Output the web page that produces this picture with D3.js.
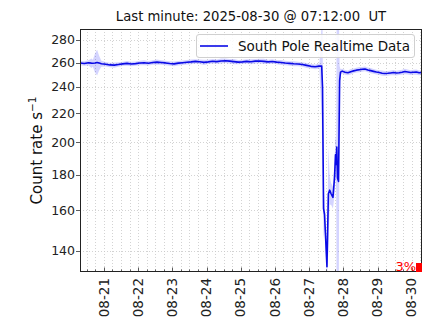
<!DOCTYPE html>
<html>
<head>
<meta charset="utf-8">
<script src="https://cdn.jsdelivr.net/npm/d3@7"></script>
<style>
  body { margin: 0; background: #fff; }
  svg { display: block; font-family: "DejaVu Sans", sans-serif; }
</style>
</head>
<body>
<div id="chart"></div>
<script>
// hours since 2025-08-20 07:12 UT
var hours = [0, 3, 6, 8, 9, 10.5, 12, 13.5, 15, 18, 21, 24, 27, 30, 33, 36, 39, 42, 45, 48, 51, 54, 57, 60,
    63, 66, 69, 72, 75, 78, 81, 84, 87, 90, 93, 96, 99, 102, 105, 108, 111, 114, 117, 120, 123, 126,
    129, 132, 135, 138, 141, 144, 147, 150, 153, 156, 159, 162, 165, 168, 169.6,
    170.2, 170.9, 171.6, 173.3, 174.3, 175.2, 176.2, 177.5, 178.6, 179.3, 179.8, 180.2, 180.7, 181.4,
    182.2, 182.8, 184, 186, 188, 190, 192, 194, 196, 198, 200, 202, 204, 206, 208, 210, 212, 214, 216,
    218, 220, 222, 224, 226, 228, 230, 232, 234, 236, 238, 240];
var rates = [259.6, 259.2, 259.8, 259.5, 259.4, 259.7, 260.1, 259.6, 259.0, 258.6, 258.0, 257.8, 258.4,
    258.9, 259.3, 258.8, 259.1, 259.6, 259.9, 259.4, 260.0, 260.4, 260.1, 259.7, 259.2, 258.9, 259.5,
    259.9, 260.3, 260.6, 261.0, 260.7, 260.2, 260.6, 261.1, 260.8, 261.3, 261.6, 261.2, 260.8, 260.4,
    260.6, 261.0, 260.7, 261.2, 261.4, 261.0, 260.6, 260.9, 260.4, 260.0, 259.6, 259.3, 259.0, 258.8,
    258.3, 257.6, 256.8, 256.4, 257.0, 257.0,
    240, 161, 158, 133, 169, 171, 169, 167, 178, 192, 186, 197, 178, 176,
    245, 252, 252.8, 251.8, 251.4, 252.3, 253.0, 253.6, 254.0, 254.3, 254.6, 253.8, 253.2, 252.6,
    252.0, 251.6, 251.1, 250.8, 251.0, 251.3, 251.6, 251.2, 251.5, 251.9, 252.5, 252.1, 251.6,
    251.9, 252.0, 251.4, 251.6];
var errors = [1.9, 1.9, 2.2, 4, 3, 8, 11, 6, 2.5, 1.9, 1.9, 2.2, 1.9, 1.9, 2.1, 1.9, 1.9, 1.9, 2.1, 1.9,
    1.9, 2.2, 1.9, 1.9, 1.9, 2.1, 1.9, 1.9, 1.9, 2.1, 1.9, 1.9, 2.2, 1.9, 1.9, 1.9, 2.1, 1.9, 1.9, 2.2,
    1.9, 1.9, 1.9, 2.1, 1.9, 1.9, 2.2, 1.9, 1.9, 1.9, 2.1, 1.9, 1.9, 2.2, 1.9, 1.9, 2.1, 1.9, 2.0,
    2.2, 40,
    55, 15, 8, 6, 28, 8, 6, 6, 10, 12, 15, 160, 160, 160,
    12, 2.5, 2.0, 2.0, 2.0, 2.2, 2.0, 2.0, 2.2, 2.0, 2.0, 2.0, 2.2, 2.0, 2.0, 2.0, 2.2, 2.0, 2.0,
    2.0, 2.2, 2.0, 2.0, 2.0, 2.2, 2.0, 2.0, 2.0, 2.2, 2.0, 2.0];
var yTicks = [140, 160, 180, 200, 220, 240, 260, 280];
var dayLabels = ["08-21", "08-22", "08-23", "08-24", "08-25", "08-26", "08-27", "08-28", "08-29", "08-30"];
var titleText = "Last minute: 2025-08-30 @ 07:12:00\u00a0\u00a0UT";
var legendText = "South Pole Realtime Data";
var progressText = "3%";

var W = 434, H = 330;
var pl = 80, pr = 422, pt = 29, pb = 272;
var start = new Date(Date.UTC(2025, 7, 20, 7, 12));
var end = new Date(Date.UTC(2025, 7, 30, 7, 12));

var svg = d3.select("#chart").append("svg").attr("width", W).attr("height", H);

var x = d3.scaleUtc().domain([start, end]).range([pl, pr]);
var y = d3.scaleLog().domain([130.7, 290.3]).range([pb, pt]);

var data = hours.map(function(h, i) {
    return { t: new Date(start.getTime() + h * 3600000), v: rates[i], e: errors[i] };
});

svg.append("clipPath").attr("id", "clip")
    .append("rect").attr("x", pl).attr("y", pt).attr("width", pr - pl).attr("height", pb - pt);

/* grid */
var sixHours = d3.utcHour.every(6).range(start, end);
svg.append("g").selectAll("line").data(sixHours).enter().append("line")
    .attr("x1", function(d) { return Math.round(x(d)) + 0.5; }).attr("x2", function(d) { return Math.round(x(d)) + 0.5; })
    .attr("y1", pt).attr("y2", pb)
    .attr("stroke", "#c8c8c8").attr("stroke-width", 0.8).attr("stroke-dasharray", "1,2");
svg.append("g").selectAll("line").data(yTicks).enter().append("line")
    .attr("x1", pl).attr("x2", pr)
    .attr("y1", function(d) { return Math.round(y(d)) + 0.5; }).attr("y2", function(d) { return Math.round(y(d)) + 0.5; })
    .attr("stroke", "#c8c8c8").attr("stroke-width", 0.8).attr("stroke-dasharray", "1,2");

/* error band + line */
var plot = svg.append("g").attr("clip-path", "url(#clip)");
plot.append("path").datum(data)
    .attr("d", d3.area()
        .x(function(d) { return x(d.t); })
        .y0(function(d) { return y(Math.max(d.v - d.e, 100)); })
        .y1(function(d) { return y(d.v + d.e); }))
    .attr("fill", "#0000ff").attr("fill-opacity", 0.17);
plot.append("path").datum(data)
    .attr("d", d3.line().x(function(d) { return x(d.t); }).y(function(d) { return y(d.v); }))
    .attr("fill", "none").attr("stroke", "#0a0ae6").attr("stroke-width", 1.6).attr("stroke-linejoin", "round");

/* x ticks (inward) */
var days = d3.utcDay.range(d3.utcDay.ceil(start), end);
svg.append("g").selectAll("line").data(sixHours).enter().append("line")
    .attr("x1", function(d) { return Math.round(x(d)) + 0.5; }).attr("x2", function(d) { return Math.round(x(d)) + 0.5; })
    .attr("y1", pb).attr("y2", function(d) { return d.getUTCHours() === 0 ? pb - 4.5 : pb - 2.5; })
    .attr("stroke", "#333").attr("stroke-width", 0.8);
svg.append("g").selectAll("text").data(days).enter().append("text")
    .attr("transform", function(d) { return "translate(" + x(d) + "," + (pb + 6) + ") rotate(-90)"; })
    .attr("text-anchor", "end").attr("dy", "0.35em")
    .attr("font-size", 13.5).attr("fill", "#222")
    .text(function(d, i) { return dayLabels[i]; });

/* y ticks */
svg.append("g").selectAll("line").data(yTicks).enter().append("line")
    .attr("x1", pl - 4).attr("x2", pl)
    .attr("y1", function(d) { return Math.round(y(d)) + 0.5; }).attr("y2", function(d) { return Math.round(y(d)) + 0.5; })
    .attr("stroke", "#333").attr("stroke-width", 0.8);
svg.append("g").selectAll("text").data(yTicks).enter().append("text")
    .attr("x", pl - 5).attr("y", function(d) { return y(d); })
    .attr("dy", "0.35em").attr("text-anchor", "end")
    .attr("font-size", 12.5).attr("fill", "#222")
    .text(function(d) { return d; });

/* frame */
svg.append("rect").attr("x", pl + 0.5).attr("y", pt + 0.5)
    .attr("width", pr - pl - 1).attr("height", pb - pt - 1)
    .attr("fill", "none").attr("stroke", "#222").attr("stroke-width", 1);

/* y label */
var yl = svg.append("text")
    .attr("transform", "translate(42," + ((pt + pb) / 2) + ") rotate(-90)")
    .attr("text-anchor", "middle").attr("font-size", 15).attr("fill", "#111");
yl.append("tspan").text("Count rate s");
yl.append("tspan").attr("dy", -6).attr("font-size", 10.5).text("\u22121");

/* title */
svg.append("text").attr("x", (pl + pr) / 2).attr("y", 21)
    .attr("text-anchor", "middle").attr("font-size", 13.2).attr("fill", "#111")
    .text(titleText);

/* legend */
var lg = svg.append("g");
lg.append("rect").attr("x", 196.5).attr("y", 34.5).attr("width", 218).attr("height", 23).attr("rx", 2.5)
    .attr("fill", "#fff").attr("fill-opacity", 0.85).attr("stroke", "#d0d0d0").attr("stroke-width", 1);
lg.append("line").attr("x1", 200).attr("x2", 228).attr("y1", 46).attr("y2", 46)
    .attr("stroke", "#0a0ae6").attr("stroke-width", 1.6);
lg.append("text").attr("x", 238).attr("y", 46).attr("dy", "0.35em")
    .attr("font-size", 13.5).attr("fill", "#111").text(legendText);

/* progress marker */
svg.append("text").attr("x", 416).attr("y", 271).attr("text-anchor", "end")
    .attr("font-size", 13).attr("fill", "#ff0000").text(progressText);
svg.append("rect").attr("x", 416).attr("y", 263).attr("width", 6).attr("height", 9).attr("fill", "#ff0000");
</script>
</body>
</html>
